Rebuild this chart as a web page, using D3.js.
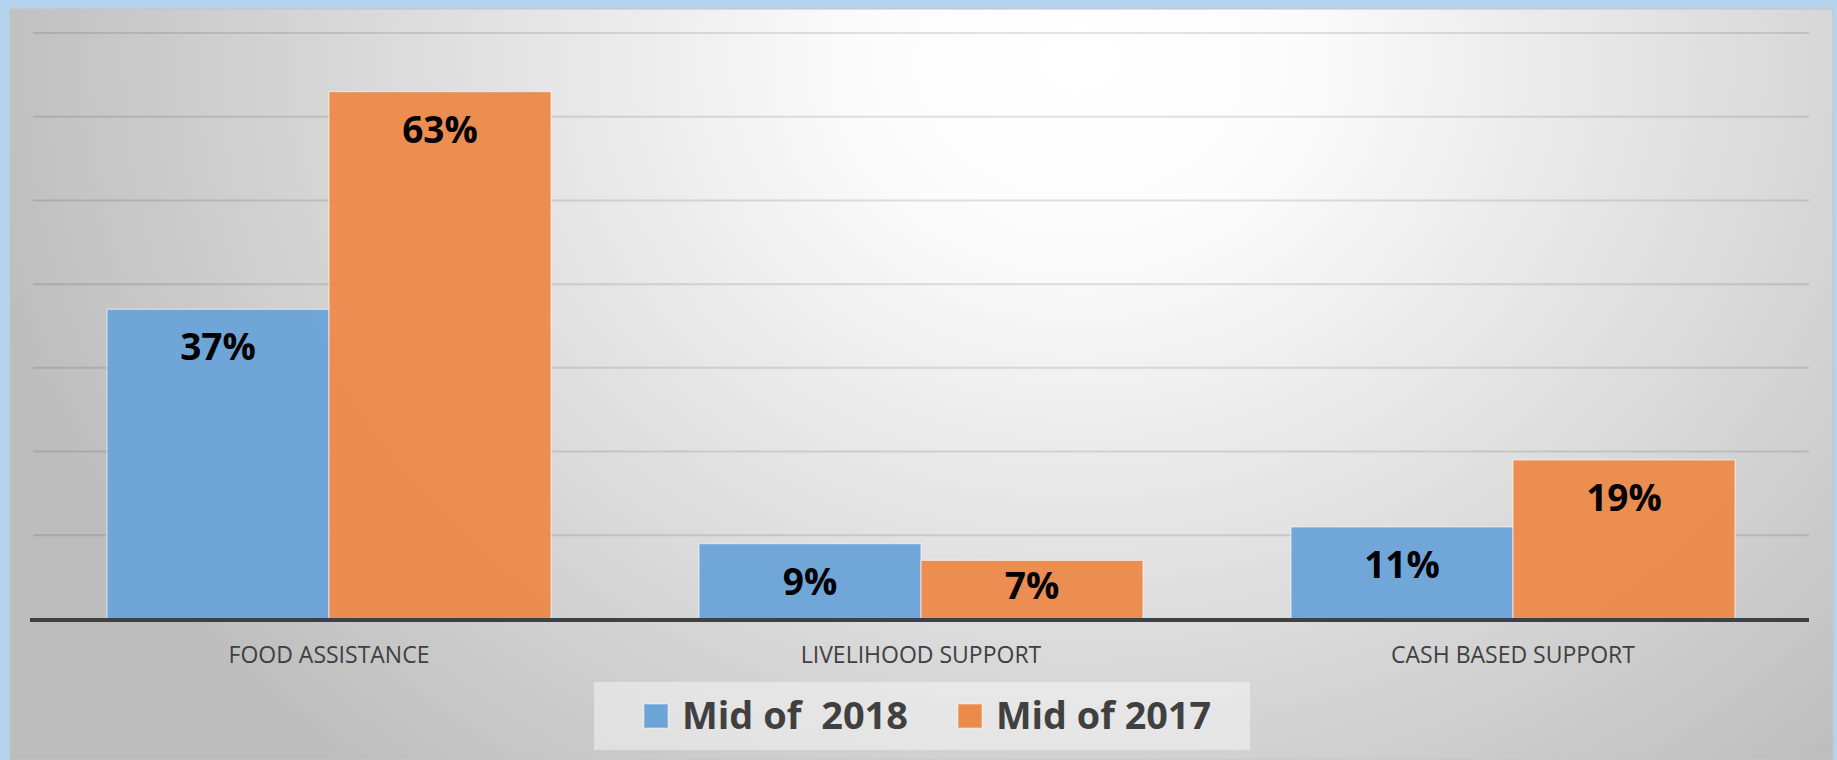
<!DOCTYPE html>
<html>
<head>
<meta charset="utf-8">
<script src="https://cdn.jsdelivr.net/npm/d3@7"></script>
<style>
  html, body { margin: 0; padding: 0; background: #b3d3ee; }
  svg { display: block; }
  text { font-family: "Open Sans", "DejaVu Sans", sans-serif; }
</style>
</head>
<body>
<script>
// chart data
const categories = ["FOOD ASSISTANCE", "LIVELIHOOD SUPPORT", "CASH BASED SUPPORT"];
const seriesNames = ["Mid of  2018", "Mid of 2017"];
const mid2018 = [37, 9, 11];
const mid2017 = [63, 7, 19];
const yTicks = [0, 10, 20, 30, 40, 50, 60, 70];
const colors = ["#6ca4d7", "#ec8a4b"];

const W = 1837, H = 760;

const svg = d3.select("body").append("svg")
  .attr("width", W)
  .attr("height", H);

// background gradient for the chart panel
const defs = svg.append("defs");
const grad = defs.append("radialGradient")
  .attr("id", "bg")
  .attr("gradientUnits", "userSpaceOnUse")
  .attr("cx", 1080).attr("cy", 60)
  .attr("r", 1120)
  .attr("gradientTransform", "translate(1080,60) scale(1,0.85) translate(-1080,-60)");
grad.append("stop").attr("offset", "0").attr("stop-color", "#ffffff");
grad.append("stop").attr("offset", "0.2").attr("stop-color", "#fbfbfb");
grad.append("stop").attr("offset", "1").attr("stop-color", "#bdbdbd");

svg.append("rect")
  .attr("x", 0).attr("y", 0)
  .attr("width", W).attr("height", H)
  .attr("fill", "#b3d3ee");

svg.append("rect")
  .attr("x", 10).attr("y", 9)
  .attr("width", 1823).attr("height", H - 9)
  .attr("fill", "url(#bg)")
  .attr("stroke", "#c4c4c4")
  .attr("stroke-width", 1);

// scales
const y = d3.scaleLinear()
  .domain([0, 70])
  .range([619, 33]);

const x = d3.scaleBand()
  .domain(categories)
  .range([33, 1809])
  .paddingInner(0.25)
  .paddingOuter(0.125);

const xs = d3.scaleBand()
  .domain(seriesNames)
  .range([0, x.bandwidth()])
  .padding(0);

// gridlines
svg.append("g")
  .selectAll("line")
  .data(yTicks.filter(d => d > 0))
  .enter()
  .append("line")
  .attr("x1", 33)
  .attr("x2", 1809)
  .attr("y1", d => y(d))
  .attr("y2", d => y(d))
  .attr("stroke", "rgba(0,0,0,0.11)")
  .attr("stroke-width", 2);

// bars
const rows = categories.map((c, i) => ({
  cat: c,
  vals: [
    { s: seriesNames[0], v: mid2018[i], c: colors[0] },
    { s: seriesNames[1], v: mid2017[i], c: colors[1] }
  ]
}));

const groups = svg.append("g")
  .selectAll("g")
  .data(rows)
  .enter()
  .append("g")
  .attr("transform", d => "translate(" + x(d.cat) + ",0)");

groups.selectAll("rect")
  .data(d => d.vals)
  .enter()
  .append("rect")
  .attr("x", d => xs(d.s))
  .attr("y", d => y(d.v))
  .attr("width", xs.bandwidth())
  .attr("height", d => y(0) - y(d.v))
  .attr("fill", d => d.c)
  .attr("fill-opacity", 0.96)
  .attr("stroke", "rgba(255,255,255,0.55)")
  .attr("stroke-width", 1.2);

// value labels (inside end)
groups.selectAll("text")
  .data(d => d.vals)
  .enter()
  .append("text")
  .attr("x", d => xs(d.s) + xs.bandwidth() / 2)
  .attr("y", d => Math.min(y(d.v) + 51, y(0) - 20))
  .attr("text-anchor", "middle")
  .attr("font-size", 37)
  .attr("font-weight", "bold")
  .attr("fill", "#000")
  .text(d => d.v + "%");

// axis line
svg.append("line")
  .attr("x1", 30).attr("x2", 1809)
  .attr("y1", y(0) + 1).attr("y2", y(0) + 1)
  .attr("stroke", "#404040")
  .attr("stroke-width", 4);

// category labels
svg.append("g")
  .selectAll("text")
  .data(categories)
  .enter()
  .append("text")
  .attr("x", d => x(d) + x.bandwidth() / 2)
  .attr("y", 663)
  .attr("text-anchor", "middle")
  .attr("font-size", 23)
  .attr("fill", "#404040")
  .text(d => d);

// legend
const legend = svg.append("g");
legend.append("rect")
  .attr("x", 594).attr("y", 682)
  .attr("width", 656).attr("height", 68)
  .attr("fill", "rgba(255,255,255,0.42)");

const legendX = [644, 958];
const legendW = [226, 215];
const items = legend.selectAll("g")
  .data(seriesNames)
  .enter()
  .append("g")
  .attr("transform", (d, i) => "translate(" + legendX[i] + ",0)");

items.append("rect")
  .attr("x", 0).attr("y", 704)
  .attr("width", 24).attr("height", 24)
  .attr("fill", (d, i) => colors[i])
  .attr("stroke", "rgba(255,255,255,0.5)")
  .attr("stroke-width", 1);

items.append("text")
  .attr("x", 38)
  .attr("y", 729)
  .attr("font-size", 38)
  .attr("font-weight", "bold")
  .attr("fill", "#404040")
  .attr("textLength", (d, i) => legendW[i])
  .attr("lengthAdjust", "spacingAndGlyphs")
  .style("white-space", "pre")
  .text(d => d);
</script>
</body>
</html>
